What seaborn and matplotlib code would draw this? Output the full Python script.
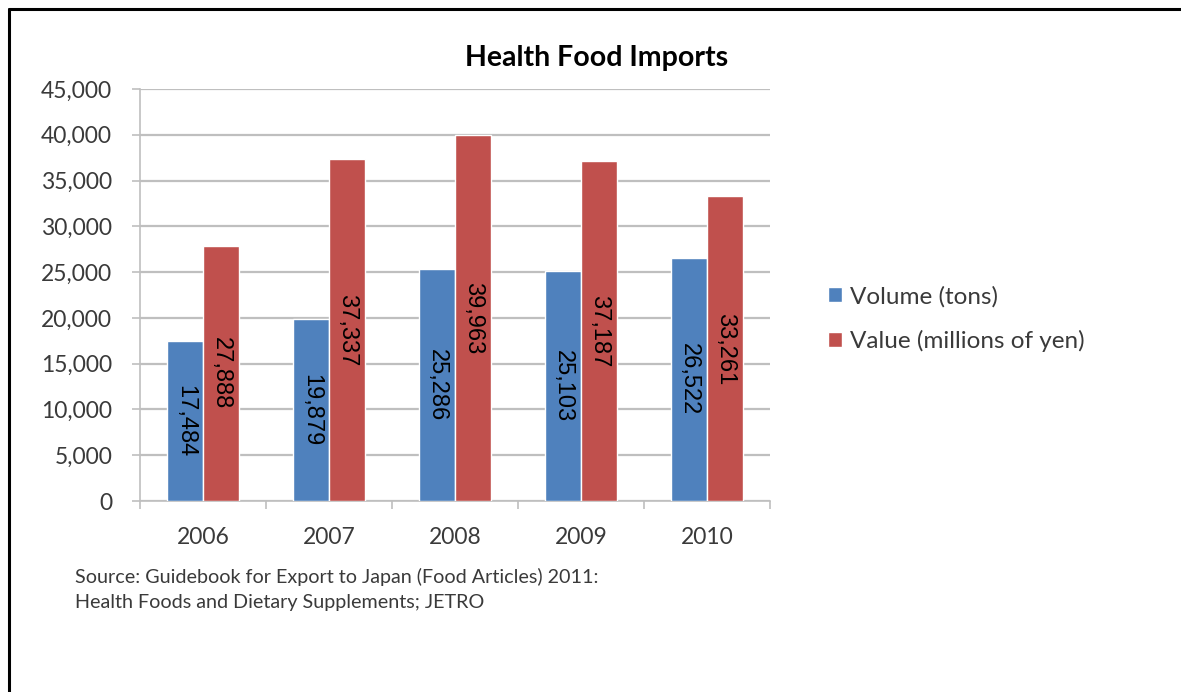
import matplotlib
matplotlib.use("Agg")
import matplotlib.pyplot as plt
from matplotlib.lines import Line2D
from matplotlib.ticker import FuncFormatter, FixedLocator
import seaborn as sns
import pandas as pd

# Health food imports into Japan, 2006-2010
years = ["2006", "2007", "2008", "2009", "2010"]
volume_tons = [17484, 19879, 25286, 25103, 26522]
value_myen = [27888, 37337, 39963, 37187, 33261]
series_names = ["Volume (tons)", "Value (millions of yen)"]
series_colors = ["#4F81BD", "#C0504D"]
y_ticks = list(range(0, 45001, 5000))

df = pd.DataFrame({
    "Year": years * 2,
    "Amount": volume_tons + value_myen,
    "Series": [series_names[0]] * len(years) + [series_names[1]] * len(years),
})

sns.set_theme(style="white")
plt.rcParams["font.family"] = ["Lato", "DejaVu Sans"]

fig = plt.figure(figsize=(11.81, 6.92), dpi=100)
ax = fig.add_axes([140 / 1181, 1 - 501 / 692, 630 / 1181, 412 / 692])

sns.barplot(data=df, x="Year", y="Amount", hue="Series", palette=series_colors,
            width=0.57, saturation=1, ax=ax, legend=True, zorder=3)

grid_col = "#BFBFBF"
ax.set_ylim(0, 45000)
ax.set_xlim(-0.5, len(years) - 0.5)
ax.yaxis.set_major_locator(FixedLocator(y_ticks))
ax.yaxis.set_major_formatter(FuncFormatter(lambda v, p: f"{int(v):,}"))
ax.grid(axis="y", color=grid_col, linewidth=1.6, zorder=0)
ax.set_axisbelow(True)
for s in ("top", "right"):
    ax.spines[s].set_visible(False)
for s in ("left", "bottom"):
    ax.spines[s].set_color(grid_col)
    ax.spines[s].set_linewidth(1.2)
ax.set_xlabel("")
ax.set_ylabel("")

# Value labels, rotated and centred in each bar
for cont in ax.containers:
    ax.bar_label(cont, labels=[f"{v:,.0f}" for v in cont.datavalues],
                 label_type="center", rotation=270, fontsize=17,
                 family="Liberation Sans", color="#000000")

label_col = "#3A3A3A"
ax.tick_params(axis="y", which="major", direction="out", length=6, width=1.2,
               color=grid_col, pad=14, labelsize=16.5, labelcolor=label_col, left=True)
ax.tick_params(axis="x", which="major", length=0, pad=19, labelsize=16.5,
               labelcolor=label_col)
ax.xaxis.set_minor_locator(FixedLocator([i - 0.5 for i in range(len(years) + 1)]))
ax.tick_params(axis="x", which="minor", direction="out", length=6, width=1.2,
               color=grid_col, bottom=True)

# Legend to the right of the plot
handles, labels = ax.get_legend_handles_labels()
ax.get_legend().remove()
fig.legend(handles, labels, loc="center left",
           bbox_to_anchor=(806 / 1181, 1 - 319 / 692), frameon=False,
           fontsize=17.5, handlelength=0.6, handleheight=0.6, handletextpad=0.3,
           labelspacing=0.95, labelcolor=label_col)

fig.text(597 / 1181, 1 - 58 / 692, "Health Food Imports", ha="center", va="center",
         fontsize=20.5, fontweight="bold", color="#000000")

fig.text(75 / 1181, 1 - 568 / 692,
         "Source: Guidebook for Export to Japan (Food Articles) 2011:\n"
         "Health Foods and Dietary Supplements; JETRO",
         ha="left", va="top", fontsize=14.2, color=label_col, linespacing=1.55)

# Frame lines along the left and top edges
fig.add_artist(Line2D([9 / 1181, 9 / 1181], [0, 1 - 9 / 692], transform=fig.transFigure,
                      color="#000000", linewidth=2.2))
fig.add_artist(Line2D([9 / 1181, 1], [1 - 9 / 692, 1 - 9 / 692], transform=fig.transFigure,
                      color="#000000", linewidth=2.2))

fig.savefig("out.png", dpi=100)
